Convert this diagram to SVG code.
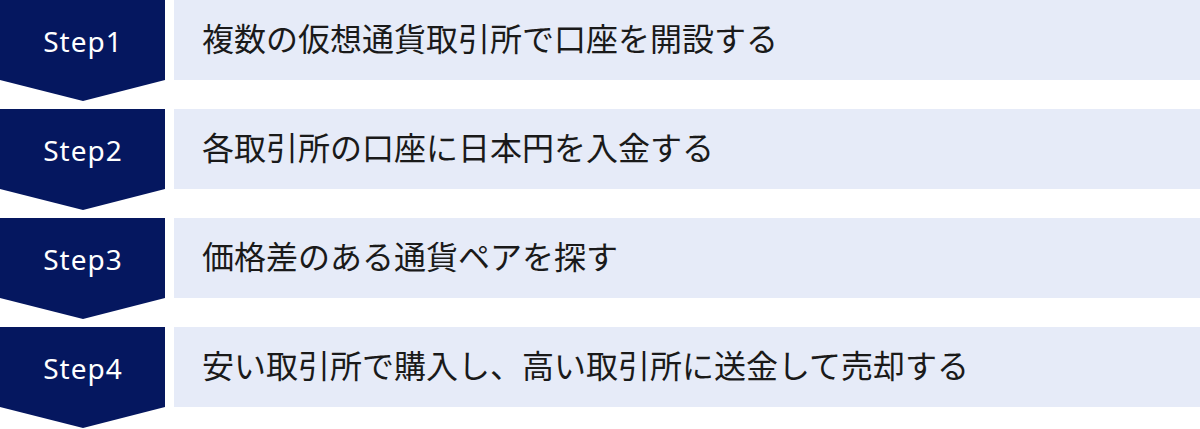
<svg xmlns="http://www.w3.org/2000/svg" width="1200" height="429" viewBox="0 0 1200 429">
<style>
.step{fill:#05175F}
.box{fill:#E6EBF8}
.lbl{font-family:"Noto Sans","Open Sans",sans-serif;font-size:28px;fill:#FFFFFF;text-anchor:middle;letter-spacing:1px}
.txt{font-family:"Noto Sans CJK JP","Noto Sans",sans-serif;font-size:32px;fill:#1A1A1A}
</style>
<rect width="1200" height="429" fill="#FFFFFF"/>
<g id="step1">
<path class="step" d="M0 0H165V80L83 101L0 80Z"/>
<rect class="box" x="174" y="0" width="1026" height="80"/>
<text class="lbl" x="83" y="52">Step1</text>
<text class="txt" x="202" y="51">複数の仮想通貨取引所で口座を開設する</text>
</g>
<g id="step2">
<path class="step" d="M0 109H165V189L83 210L0 189Z"/>
<rect class="box" x="174" y="109" width="1026" height="80"/>
<text class="lbl" x="83" y="161">Step2</text>
<text class="txt" x="202" y="160">各取引所の口座に日本円を入金する</text>
</g>
<g id="step3">
<path class="step" d="M0 218H165V298L83 319L0 298Z"/>
<rect class="box" x="174" y="218" width="1026" height="80"/>
<text class="lbl" x="83" y="270">Step3</text>
<text class="txt" x="202" y="269">価格差のある通貨ペアを探す</text>
</g>
<g id="step4">
<path class="step" d="M0 327H165V407L83 428L0 407Z"/>
<rect class="box" x="174" y="327" width="1026" height="80"/>
<text class="lbl" x="83" y="379">Step4</text>
<text class="txt" x="202" y="378">安い取引所で購入し、高い取引所に送金して売却する</text>
</g>
<g id="connectors"/>
</svg>
